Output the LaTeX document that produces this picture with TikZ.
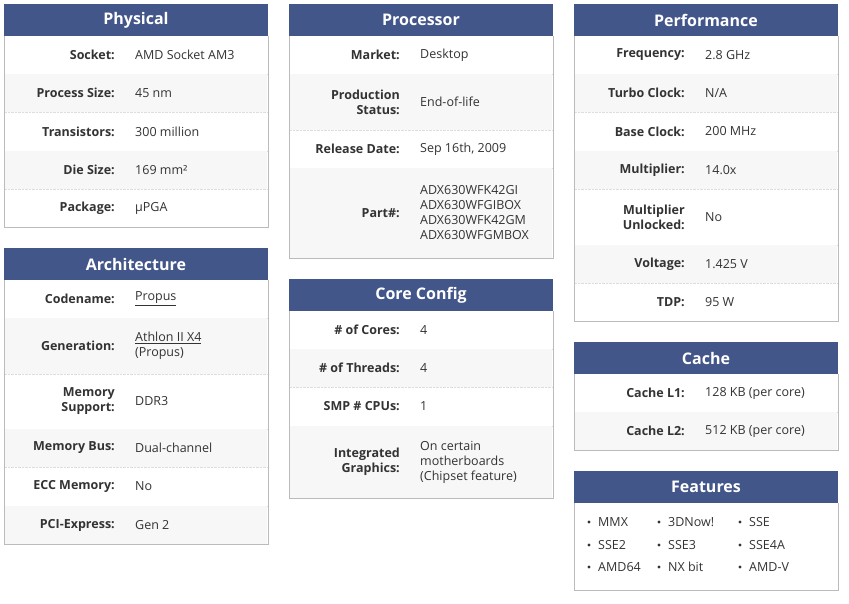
\documentclass[tikz,border=0pt]{standalone}
\usepackage{fontspec}
\setmainfont{Open Sans}
\definecolor{hdr}{HTML}{43568A}
\definecolor{txt}{HTML}{333333}
\definecolor{rowgrey}{HTML}{F7F7F7}
\definecolor{brd}{HTML}{BBBBBB}
\definecolor{sep}{HTML}{DDDDDD}
\tikzset{
  lab/.style={anchor=east,align=right,font=\fontsize{12.5}{15}\selectfont\bfseries,text=txt,inner sep=0pt},
  val/.style={anchor=west,align=left,font=\fontsize{12.5}{15}\selectfont,text=txt,inner sep=0pt},
  hd/.style={font=\fontsize{16}{18}\selectfont\bfseries,text=white,inner sep=0pt},
  feat/.style={anchor=west,font=\fontsize{12.5}{15}\selectfont,text=txt,inner sep=0pt},
}
% panel: name, x0, ytop, ybot, title
\newcommand{\panel}[5]{%
  \fill[white] (#2,#3) rectangle (#2+264,#4);
  \fill[hdr] (#2,#3) rectangle (#2+264,#3+32);
  \node[hd] (#1) at (#2+132,#3+16) {#5};}
\newcommand{\pborder}[3]{\draw[brd] (#1,#2+32) -- (#1,#3) -- (#1+264,#3) -- (#1+264,#2+32);}
% row: name, x0, ytop, ybot, shaded(0/1), label, value
\newcommand{\prow}[7]{%
  \ifnum#5=1 \fill[rowgrey] (#2+1,#3) rectangle (#2+263,#4);\fi
  \draw[sep,densely dotted] (#2+1,#4) -- (#2+263,#4);
  \node[lab] (#1l) at (#2+111,{(#3+#4)/2}) {#6};
  \node[val] (#1v) at (#2+131,{(#3+#4)/2}) {#7};}
\begin{document}
\begin{tikzpicture}[x=1pt,y=-1pt]
\useasboundingbox (0,0) rectangle (849,603);
\fill[white] (0,0) rectangle (849,603);
% Physical
\panel{phys}{4}{4}{227}{Physical}
\prow{p1}{4}{36}{74}{0}{Socket:}{AMD Socket AM3}
\prow{p2}{4}{74}{112}{1}{Process Size:}{45 nm}
\prow{p3}{4}{112}{151}{0}{Transistors:}{300 million}
\prow{p4}{4}{151}{189}{1}{Die Size:}{169 mm²}
\prow{p5}{4}{189}{227}{0}{Package:}{µPGA}
\pborder{4}{4}{227}
% Architecture
\panel{arch}{4}{248}{544}{Architecture}
\prow{a1}{4}{280}{318}{0}{Codename:}{\underline{Propus}}
\prow{a2}{4}{318}{374}{1}{Generation:}{\underline{Athlon II X4}\\(Propus)}
\prow{a3}{4}{374}{429}{0}{Memory\\Support:}{DDR3}
\prow{a4}{4}{429}{467}{1}{Memory Bus:}{Dual-channel}
\prow{a5}{4}{467}{506}{0}{ECC Memory:}{No}
\prow{a6}{4}{506}{544}{1}{PCI-Express:}{Gen 2}
\pborder{4}{248}{544}
% Processor
\panel{proc}{289}{4}{258}{Processor}
\prow{r1}{289}{36}{74}{0}{Market:}{Desktop}
\prow{r2}{289}{74}{130}{1}{Production\\Status:}{End-of-life}
\prow{r3}{289}{130}{168}{0}{Release Date:}{Sep 16th, 2009}
\prow{r4}{289}{168}{258}{1}{Part\#:}{ADX630WFK42GI\\ADX630WFGIBOX\\ADX630WFK42GM\\ADX630WFGMBOX}
\pborder{289}{4}{258}
% Core Config
\panel{core}{289}{279}{498}{Core Config}
\prow{c1}{289}{311}{349}{0}{\# of Cores:}{4}
\prow{c2}{289}{349}{387}{1}{\# of Threads:}{4}
\prow{c3}{289}{387}{426}{0}{SMP \# CPUs:}{1}
\prow{c4}{289}{426}{498}{1}{Integrated\\Graphics:}{On certain\\motherboards\\(Chipset feature)}
\pborder{289}{279}{498}
% Performance
\panel{perf}{574}{4}{321}{Performance}
\prow{f1}{574}{36}{74}{0}{Frequency:}{2.8 GHz}
\prow{f2}{574}{74}{112}{1}{Turbo Clock:}{N/A}
\prow{f3}{574}{112}{151}{0}{Base Clock:}{200 MHz}
\prow{f4}{574}{151}{189}{1}{Multiplier:}{14.0x}
\prow{f5}{574}{189}{245}{0}{Multiplier\\Unlocked:}{No}
\prow{f6}{574}{245}{283}{1}{Voltage:}{1.425 V}
\prow{f7}{574}{283}{321}{0}{TDP:}{95 W}
\pborder{574}{4}{321}
% Cache
\panel{cache}{574}{342}{450}{Cache}
\prow{k1}{574}{374}{412}{0}{Cache L1:}{128 KB (per core)}
\prow{k2}{574}{412}{450}{1}{Cache L2:}{512 KB (per core)}
\pborder{574}{342}{450}
% Features
\panel{feats}{574}{471}{590}{Features}
\pborder{574}{471}{590}
\foreach \t/\x/\y [count=\i] in {MMX/589/522,3DNow!/659/522,SSE/740/522,SSE2/589/545,SSE3/659/545,SSE4A/740/545,AMD64/589/567,NX bit/659/567,AMD-V/740/567}{
  \fill[txt] (\x,\y) circle (1.6);
  \node[feat] (ft\i) at (\x+9,\y) {\t};
}
\end{tikzpicture}
\end{document}
